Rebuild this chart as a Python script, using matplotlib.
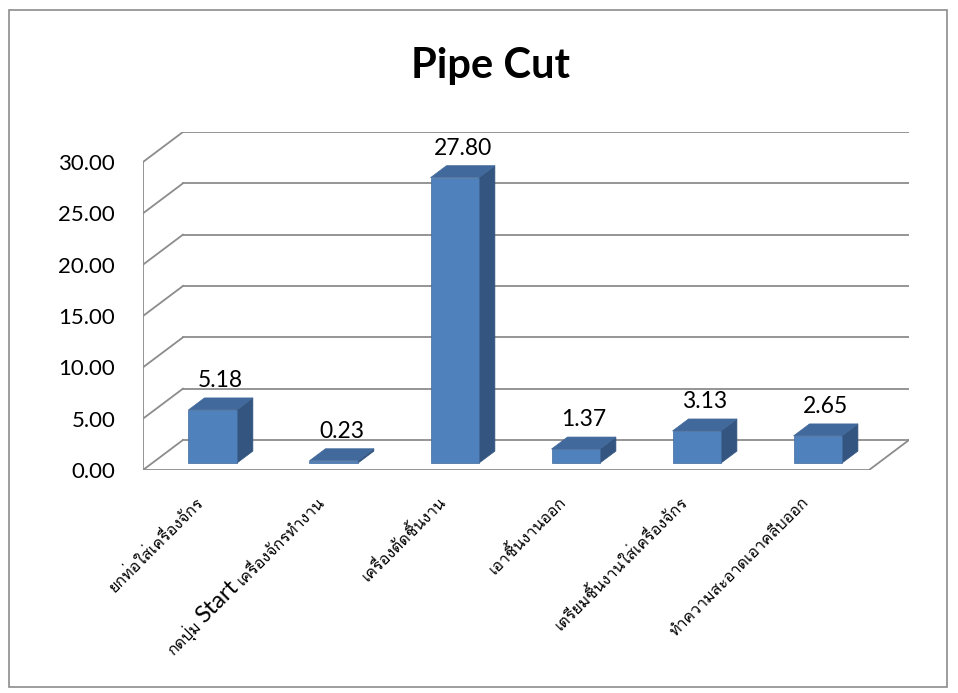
import matplotlib.pyplot as plt
from matplotlib.patches import Polygon, Rectangle
from matplotlib.transforms import IdentityTransform
from matplotlib import font_manager
from matplotlib.ft2font import FT2Font

# data
categories = ['ยกท่อใส่เครื่องจักร',
              'กดปุ่ม Start เครื่องจักรทำงาน',
              'เครื่องตัดชิ้นงาน',
              'เอาชิ้นงานออก',
              'เตรียมชิ้นงานใส่เครื่องจักร',
              'ทำความสะอาดเอาคลีบออก']
values = [5.18, 0.23, 27.80, 1.37, 3.13, 2.65]
yticks = [0, 5, 10, 15, 20, 25, 30]
title = 'Pipe Cut'


def find_thai_font():
    # look for an installed font that has thai glyphs
    for f in font_manager.fontManager.ttflist:
        try:
            cmap = FT2Font(f.fname).get_charmap()
        except Exception:
            continue
        if 0x0E01 in cmap and 0x0E40 in cmap:
            return f.name
    return 'DejaVu Sans'


thai_font = find_thai_font()
thai_fam = [thai_font, 'DejaVu Sans']
num_font = 'Lato'

grid_col = '#8c8c8c'
front_col = '#4f81bd'
top_col = '#41699b'
side_col = '#33557f'

# fake 3d depth, in data units
DX = 0.33
DY = 2.92
d0, d1 = 0.23, 0.63
w = 0.40

fig = plt.figure(figsize=(9.58, 6.93), dpi=100)
fig.patches.append(Rectangle((0.0095, 0.008), 0.979, 0.977, transform=fig.transFigure,
                             fill=False, edgecolor='#8c8c8c', lw=1.2))

ax = fig.add_axes([143 / 958, (693 - 470) / 693, 766 / 958, 338 / 693])
ax.set_xlim(-0.5, 5.5 + DX)
ax.set_ylim(0, 30 + DY)
for s in ax.spines.values():
    s.set_visible(False)
ax.patch.set_visible(False)

n = len(values)
left, right = -0.5, n - 0.5

# back wall and left wall grid
for v in yticks:
    ax.plot([left + DX, right + DX], [v + DY, v + DY], color=grid_col, lw=1.3, zorder=1)
    ax.plot([left, left + DX], [v, v + DY], color=grid_col, lw=1.3, zorder=1)
ax.plot([left, left], [0, 30], color=grid_col, lw=1.3, zorder=1)
# floor
ax.plot([left, right, right + DX], [0, 0, DY], color=grid_col, lw=1.3, zorder=1)

dd = d1 - d0
for i, v in enumerate(values):
    x0 = i - w / 2 + d0 * DX
    y0 = d0 * DY
    side = [(x0 + w, y0), (x0 + w + dd * DX, y0 + dd * DY),
            (x0 + w + dd * DX, y0 + v + dd * DY), (x0 + w, y0 + v)]
    top = [(x0, y0 + v), (x0 + w, y0 + v),
           (x0 + w + dd * DX, y0 + v + dd * DY), (x0 + dd * DX, y0 + v + dd * DY)]
    ax.add_patch(Polygon(side, closed=True, facecolor=side_col, edgecolor=side_col, lw=0.5, zorder=3))
    ax.add_patch(Rectangle((x0, y0), w, v, facecolor=front_col, edgecolor='#41699b', lw=0.5, zorder=3))
    ax.add_patch(Polygon(top, closed=True, facecolor=top_col, edgecolor=top_col, lw=0.5, zorder=3))
    ax.annotate('%.2f' % v, (i + d0 * DX + dd * DX / 2, y0 + v + dd * DY),
                xytext=(0, 5), textcoords='offset points', ha='center', va='bottom',
                fontsize=16.5, family=num_font, zorder=4)

ax.set_yticks(yticks)
ax.set_yticklabels(['%.2f' % t for t in yticks], fontsize=16, family=num_font)
ax.tick_params(axis='y', length=0, pad=20)
ax.set_xticks([])

# x labels drawn piece by piece, so "Start" can be bigger like in the original
renderer = fig.canvas.get_renderer()


def draw_label(xpos, text):
    parts = text.split(' ')
    pieces = []
    for p in parts:
        if p.isascii():
            pieces.append((p, 17, [num_font]))
        else:
            pieces.append((p, 11.5, thai_fam))
    px, py = ax.transData.transform((xpos, 0))
    px += 1
    py -= 33
    for k, (txt, size, fam) in enumerate(reversed(pieces)):
        if k > 0:
            px -= 4 * 0.7071
            py -= 4 * 0.7071
        fig.text(px, py, txt, transform=IdentityTransform(), rotation=45,
                 rotation_mode='anchor', ha='right', va='baseline',
                 fontsize=size, family=fam)
        tmp = fig.text(0, 0, txt, fontsize=size, family=fam, transform=IdentityTransform())
        wpx = tmp.get_window_extent(renderer).width
        tmp.remove()
        px -= wpx * 0.7071
        py -= wpx * 0.7071


for i, c in enumerate(categories):
    draw_label(i, c)

fig.text(0.512, 0.905, title, ha='center', va='center', fontsize=30,
         fontweight='bold', family=num_font)

plt.savefig('out.png', dpi=100)
